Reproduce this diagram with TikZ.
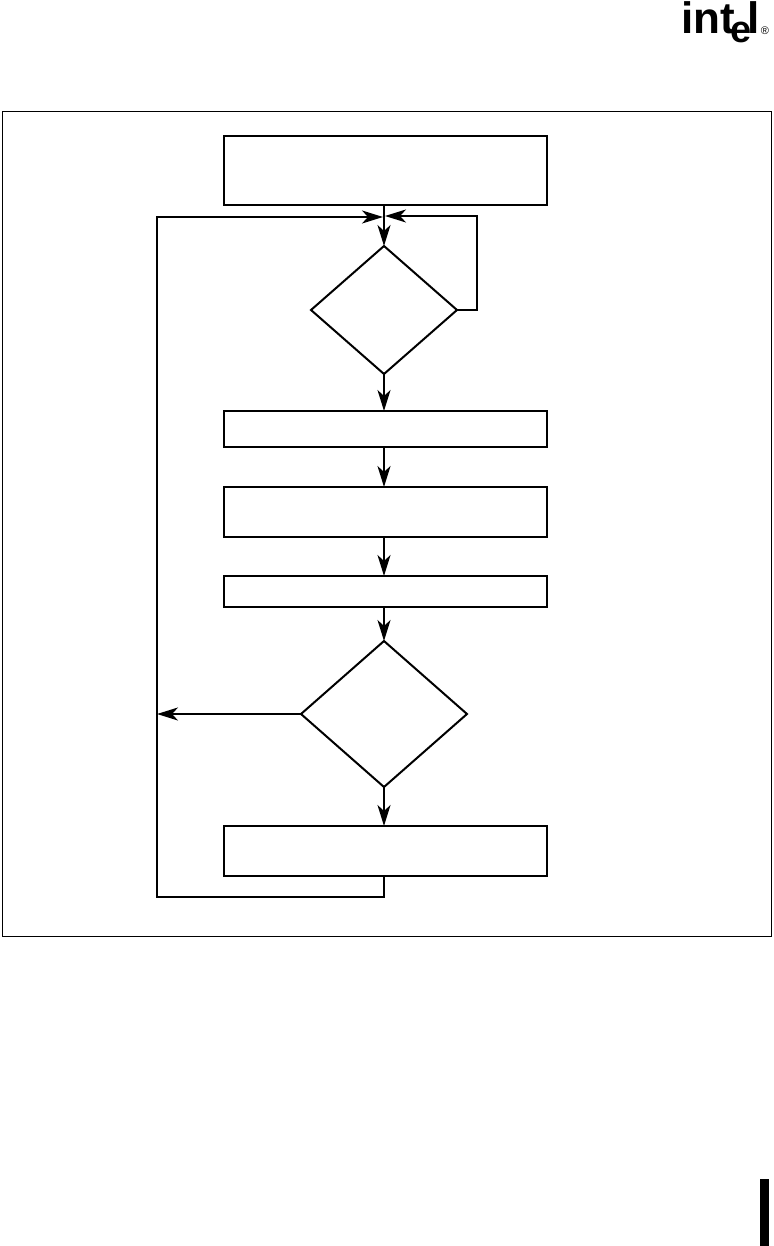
\documentclass[tikz,border=0pt]{standalone}
\usepackage{fontspec}
\setmainfont{Liberation Sans}
\usetikzlibrary{shapes.geometric,arrows.meta}
\tikzset{
  x=1pt,y=-1pt,
  flowbox/.style={draw,line width=2pt,rectangle,minimum width=323pt,inner sep=0pt,outer sep=0pt},
  decision/.style={draw,line width=2pt,diamond,inner sep=0pt,outer sep=0pt},
  link/.style={line width=2pt,line join=miter},
  flow/.style={link,-{Stealth[length=21pt,width=13pt,inset=6pt]}},
  logo/.style={inner sep=0pt,outer sep=0pt,anchor=base west,font=\bfseries\fontsize{44}{44}\selectfont}
}
\begin{document}
\begin{tikzpicture}
\useasboundingbox (0,0) rectangle (773,1246);
\draw[line width=0.8pt] (2,111) rectangle (771,936);
\fill (760,1179) rectangle (769,1246);
\node[logo] (logoint) at (681,34) {int};
\node[logo,font=\bfseries\fontsize{38}{38}\selectfont] (logoe) at (730,43) {e};
\node[logo] (logol) at (747,34) {l};
\node[inner sep=0pt,font=\fontsize{11}{11}\selectfont] (logor) at (765,31) {®};

\node[flowbox,minimum height=69pt] (b1) at (385.5,170.5) {};
\node[decision,minimum width=146pt,minimum height=128pt] (d1) at (384,310) {};
\node[flowbox,minimum height=36pt] (b2) at (385.5,429) {};
\node[flowbox,minimum height=50pt] (b3) at (385.5,512) {};
\node[flowbox,minimum height=31pt] (b4) at (385.5,591.5) {};
\node[decision,minimum width=166pt,minimum height=146pt] (d2) at (384,714) {};
\node[flowbox,minimum height=50pt] (b5) at (385.5,851) {};
\coordinate (joinL) at (383,217);
\coordinate (joinR) at (385,216);
\coordinate (loopR) at (477,216);
\coordinate (loopTL) at (157,217);
\coordinate (loopBL) at (157,897);
\coordinate (hitL) at (157,714);

\draw[flow] (d1.north |- b1.south) -- (d1.north);
\draw[flow] (d1.south) -- (d1.south |- b2.north);
\draw[flow] (d1.south |- b2.south) -- (d1.south |- b3.north);
\draw[flow] (d1.south |- b3.south) -- (d1.south |- b4.north);
\draw[flow] (d1.south |- b4.south) -- (d2.north);
\draw[flow] (d2.south) -- (d2.south |- b5.north);
\draw[flow] (d2.west) -- (hitL);
\draw[flow] (d1.east) -| (loopR) -- (joinR);
\draw[flow] (d2.south |- b5.south) |- (loopBL) -- (loopTL) -- (joinL);
\end{tikzpicture}
\end{document}
